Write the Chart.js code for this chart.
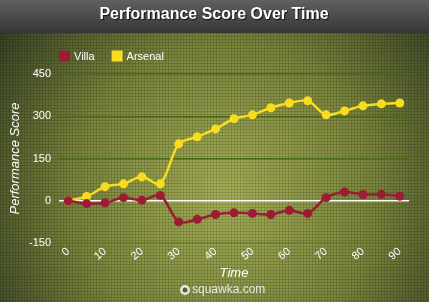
<!DOCTYPE html>
<html>
<head>
<meta charset="utf-8">
<script src="https://cdn.jsdelivr.net/npm/chart.js@4"></script>
<style>
  html, body { margin: 0; padding: 0; background: #3a3f28; }
  #wrap { width: 429px; height: 302px; }
</style>
</head>
<body>
<div id="wrap"><canvas id="chart-performance"></canvas></div>
<script>
var minutes = [0, 5, 10, 15, 20, 25, 30, 35, 40, 45, 50, 55, 60, 65, 70, 75, 80, 85, 90];
var villaScores = [0, -10, -7, 11, 2, 19, -75, -66, -49, -43, -45, -49, -34, -45, 11, 31, 22, 23, 16];
var arsenalScores = [0, 15, 50, 60, 85, 60, 202, 227, 255, 291, 305, 330, 347, 355, 305, 319, 337, 344, 347];
var yTicks = [-150, 0, 150, 300, 450];
var chartTitle = 'Performance Score Over Time';

function initPerformanceChart() {
  var canvas = document.getElementById('chart-performance');
  var ctx = canvas.getContext('2d');

  // faint dotted texture like the original
  var dots = document.createElement('canvas');
  dots.width = 3; dots.height = 3;
  var dctx = dots.getContext('2d');
  dctx.fillStyle = 'rgba(0,0,0,0.13)';
  dctx.fillRect(0, 0, 3, 1);
  dctx.fillRect(0, 0, 1, 3);
  var dotPattern = ctx.createPattern(dots, 'repeat');

  var backdrop = {
    id: 'backdrop',
    beforeDraw: function(chart) {
      var c = chart.ctx, w = chart.width, h = chart.height;
      c.save();
      var g = c.createRadialGradient(225, 195, 10, 225, 195, 290);
      g.addColorStop(0, '#a3ad55');
      g.addColorStop(0.5, '#7a853b');
      g.addColorStop(1, '#303a22');
      c.fillStyle = g;
      c.fillRect(0, 33, w, h - 33);
      c.fillStyle = dotPattern;
      c.fillRect(0, 33, w, h - 33);
      var t = c.createLinearGradient(0, 0, 0, 33);
      t.addColorStop(0, '#606060');
      t.addColorStop(1, '#363636');
      c.fillStyle = t;
      c.fillRect(0, 0, w, 33);
      // title
      c.font = 'bold 16px Arial, "Liberation Sans", sans-serif';
      c.textAlign = 'center';
      c.textBaseline = 'middle';
      c.shadowColor = 'rgba(0,0,0,0.8)';
      c.shadowOffsetX = 1;
      c.shadowOffsetY = 1;
      c.shadowBlur = 1;
      c.fillStyle = '#ffffff';
      c.fillText(chartTitle, 214, 15);
      c.restore();
    },
    afterDraw: function(chart) {
      var c = chart.ctx;
      c.save();
      // legend
      var x = 59, y = 56;
      c.font = '11px Arial, "Liberation Sans", sans-serif';
      c.textBaseline = 'middle';
      chart.data.datasets.forEach(function(ds) {
        c.fillStyle = ds.borderColor;
        c.fillRect(x, y - 5.5, 11, 11);
        c.fillStyle = '#ffffff';
        c.fillText(ds.label, x + 15, y + 0.5);
        x += 15 + c.measureText(ds.label).width + 17;
      });
      // watermark
      c.font = '12px Arial, "Liberation Sans", sans-serif';
      c.fillStyle = '#e8e8e8';
      c.textAlign = 'left';
      c.fillText('squawka.com', 192, 290);
      c.beginPath();
      c.arc(185, 290, 5, 0, Math.PI * 2);
      c.fill();
      c.fillStyle = '#5a6330';
      c.beginPath();
      c.arc(185, 290, 2.5, 0, Math.PI * 2);
      c.fill();
      c.restore();
    }
  };

  var perfData = {
    labels: minutes,
    datasets: [{
      label: 'Villa',
      borderColor: '#9b1c33',
      backgroundColor: '#9b1c33',
      data: villaScores
    }, {
      label: 'Arsenal',
      borderColor: '#f7dc1f',
      backgroundColor: '#f7dc1f',
      data: arsenalScores
    }]
  };

  var perfOptions = {
    responsive: true,
    maintainAspectRatio: false,
    animation: false,
    layout: { padding: { left: 0, right: 20, top: 74, bottom: 0 } },
    elements: {
      line: { borderWidth: 2.5, tension: 0.3 },
      point: { radius: 4.5, borderWidth: 0 }
    },
    plugins: {
      legend: { display: false },
      tooltip: { enabled: false },
      title: { display: false }
    },
    scales: {
      x: {
        type: 'category',
        offset: true,
        grid: { display: false, drawTicks: false },
        border: { display: false },
        ticks: {
          color: '#ffffff',
          autoSkip: false,
          padding: 2,
          minRotation: 40,
          maxRotation: 40,
          font: { family: 'Arial, "Liberation Sans", sans-serif', size: 11 },
          callback: function(v, i) {
            return minutes[i] % 10 === 0 ? String(minutes[i]) : '';
          }
        },
        title: {
          display: true,
          text: 'Time',
          color: '#ffffff',
          font: { family: 'Arial, "Liberation Sans", sans-serif', size: 13, style: 'italic' },
          padding: { top: 2, bottom: 21 }
        },
        afterFit: function(scale) { scale.height = 59; }
      },
      y: {
        min: yTicks[0],
        max: yTicks[yTicks.length - 1],
        border: { display: false },
        grid: {
          drawTicks: false,
          lineWidth: 1.5,
          color: function(c) {
            if (c.tick && c.tick.value === 0) return '#ffffff';
            if (c.tick && c.tick.value === yTicks[0]) return 'rgba(90,120,30,0.6)';
            return '#4b6a17';
          }
        },
        afterBuildTicks: function(scale) {
          scale.ticks = yTicks.map(function(v) { return { value: v }; });
        },
        ticks: {
          color: '#ffffff',
          padding: 8,
          font: { family: 'Arial, "Liberation Sans", sans-serif', size: 11 }
        },
        title: {
          display: true,
          text: 'Performance Score',
          color: '#ffffff',
          font: { family: 'Arial, "Liberation Sans", sans-serif', size: 13, style: 'italic' },
          padding: { top: 8, bottom: 4 }
        },
        afterFit: function(scale) { scale.width = 59; }
      }
    }
  };

  new Chart(ctx, {
    type: 'line',
    data: perfData,
    options: perfOptions,
    plugins: [backdrop]
  });
}

initPerformanceChart();
</script>
</body>
</html>
